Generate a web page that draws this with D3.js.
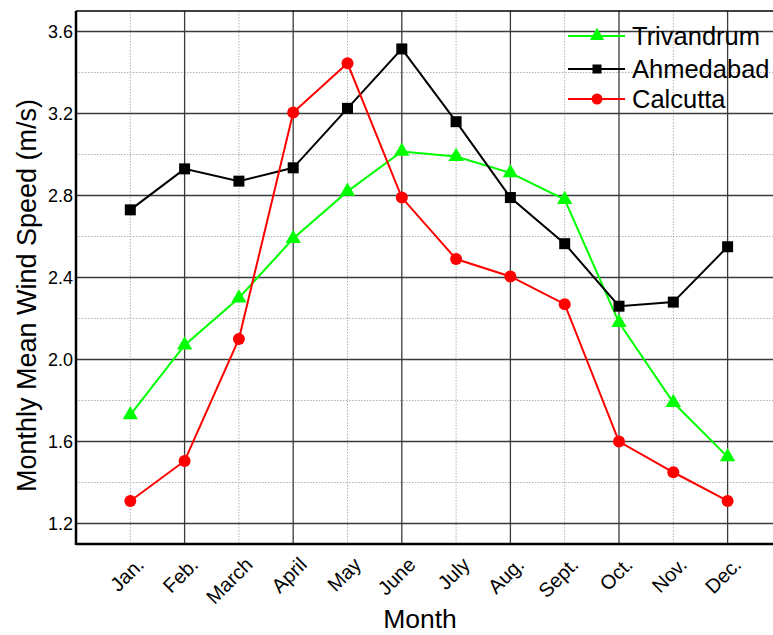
<!DOCTYPE html>
<html><head><meta charset="utf-8">
<script src="https://cdn.jsdelivr.net/npm/d3@7"></script>
<style>body{margin:0;background:#fff}svg{display:block}text{font-family:"Liberation Sans",Arial,sans-serif}</style>
</head><body>
<svg id="c" width="773" height="635"></svg>
<script>
const months = ["Jan.","Feb.","March","April","May","June","July","Aug.","Sept.","Oct.","Nov.","Dec."];
const trivandrum = [1.73,2.07,2.30,2.59,2.82,3.015,2.99,2.91,2.78,2.18,1.79,1.525];
const ahmedabad  = [2.73,2.93,2.87,2.935,3.225,3.515,3.16,2.79,2.565,2.26,2.28,2.55];
const calcutta   = [1.31,1.505,2.10,3.205,3.445,2.79,2.49,2.405,2.27,1.60,1.45,1.31];
const yMajor = [1.2,1.6,2.0,2.4,2.8,3.2,3.6];
const yMinor = [1.4,1.8,2.2,2.6,3.0,3.4];
const yLabels = ["1.2","1.6","2.0","2.4","2.8","3.2","3.6"];
const seriesNames = ["Trivandrum","Ahmedabad","Calcutta"];

const svg = d3.select("#c");
const L=76, T=11, B=544;
const x = d3.scaleLinear().domain([0,13]).range([L, L+13*54.3]);
const y = d3.scaleLinear().domain([1.1,3.7]).range([B, T]);
const R = x(13);

const g = svg.append("g");
// minor grid
g.selectAll(".vmin").data(months.filter((m,i)=>i%2===0)).enter().append("line")
  .attr("x1",(d)=>x(months.indexOf(d)+1)).attr("x2",(d)=>x(months.indexOf(d)+1))
  .attr("y1",T).attr("y2",B).attr("stroke","#b0b0b0").attr("stroke-width",1).attr("stroke-dasharray","1.5,1.5");
g.selectAll(".hmin").data(yMinor).enter().append("line")
  .attr("x1",L).attr("x2",R).attr("y1",d=>y(d)).attr("y2",d=>y(d))
  .attr("stroke","#b0b0b0").attr("stroke-width",1).attr("stroke-dasharray","1.5,1.5");
// major grid
g.selectAll(".vmaj").data(months.filter((m,i)=>i%2===1)).enter().append("line")
  .attr("x1",(d)=>x(months.indexOf(d)+1)).attr("x2",(d)=>x(months.indexOf(d)+1))
  .attr("y1",T).attr("y2",B).attr("stroke","#3a3a3a").attr("stroke-width",1.3);
g.selectAll(".hmaj").data(yMajor).enter().append("line")
  .attr("x1",L).attr("x2",R).attr("y1",d=>y(d)).attr("y2",d=>y(d))
  .attr("stroke","#3a3a3a").attr("stroke-width",1.3);
// frame
g.append("line").attr("x1",L).attr("x2",R).attr("y1",T).attr("y2",T).attr("stroke","#000").attr("stroke-width",1.5);
g.append("line").attr("x1",L).attr("x2",R).attr("y1",B).attr("y2",B).attr("stroke","#000").attr("stroke-width",2.5);
g.append("line").attr("x1",L).attr("x2",L).attr("y1",T).attr("y2",B+1).attr("stroke","#000").attr("stroke-width",2.5);

// y tick labels
g.selectAll(".yl").data(yMajor).enter().append("text")
  .attr("x",L-3).attr("y",d=>y(d)).attr("dy","0.36em").attr("text-anchor","end")
  .attr("font-size",18).text((d,i)=>yLabels[i]);
// x tick labels
g.selectAll(".xl").data(months).enter().append("text")
  .attr("transform",(d,i)=>`translate(${x(i+1)+10},${B+17}) rotate(-45)`)
  .attr("text-anchor","end").attr("dy","0.35em").attr("font-size",20).text(d=>d);
// axis titles
svg.append("text").attr("x",420).attr("y",628).attr("text-anchor","middle").attr("font-size",26.5).text("Month");
svg.append("text").attr("transform",`translate(36,${(T+B)/2+18}) rotate(-90)`).attr("text-anchor","middle")
  .attr("font-size",27).text("Monthly Mean Wind Speed (m/s)");

const series = [
  {name:seriesNames[0], vals:trivandrum, color:"#00ff00", shape:"tri"},
  {name:seriesNames[1], vals:ahmedabad, color:"#000000", shape:"sq"},
  {name:seriesNames[2], vals:calcutta, color:"#ff0000", shape:"circ"}
];
function marker(sel, shape, color, s){
  if(shape==="tri"){
    sel.append("path").attr("d",d3.symbol(d3.symbolTriangle, s*s*0.45)()).attr("fill",color);
  } else if(shape==="sq"){
    sel.append("rect").attr("x",-s/2).attr("y",-s/2).attr("width",s).attr("height",s).attr("fill",color);
  } else {
    sel.append("circle").attr("r",s/2).attr("fill",color);
  }
}
const line = d3.line().x((d,i)=>x(i+1)).y(d=>y(d));
series.forEach(s=>{
  g.append("path").attr("d",line(s.vals)).attr("fill","none").attr("stroke",s.color).attr("stroke-width",2);
  s.vals.forEach((v,i)=>{
    const m = g.append("g").attr("transform",`translate(${x(i+1)},${y(v)})`);
    marker(m, s.shape, s.color, s.shape==="sq"?11:(s.shape==="circ"?12:15));
  });
});
// legend
const leg = svg.append("g");
const ly = [36,69,99];
series.forEach((s,i)=>{
  leg.append("line").attr("x1",568).attr("x2",625).attr("y1",ly[i]).attr("y2",ly[i]).attr("stroke",s.color).attr("stroke-width",2);
  const m = leg.append("g").attr("transform",`translate(597,${ly[i]})`);
  marker(m, s.shape, s.color, s.shape==="sq"?9:(s.shape==="circ"?11:14));
  leg.append("text").attr("x",632).attr("y",ly[i]).attr("dy","0.36em").attr("font-size",25.5).text(s.name);
});
</script>
</body></html>
